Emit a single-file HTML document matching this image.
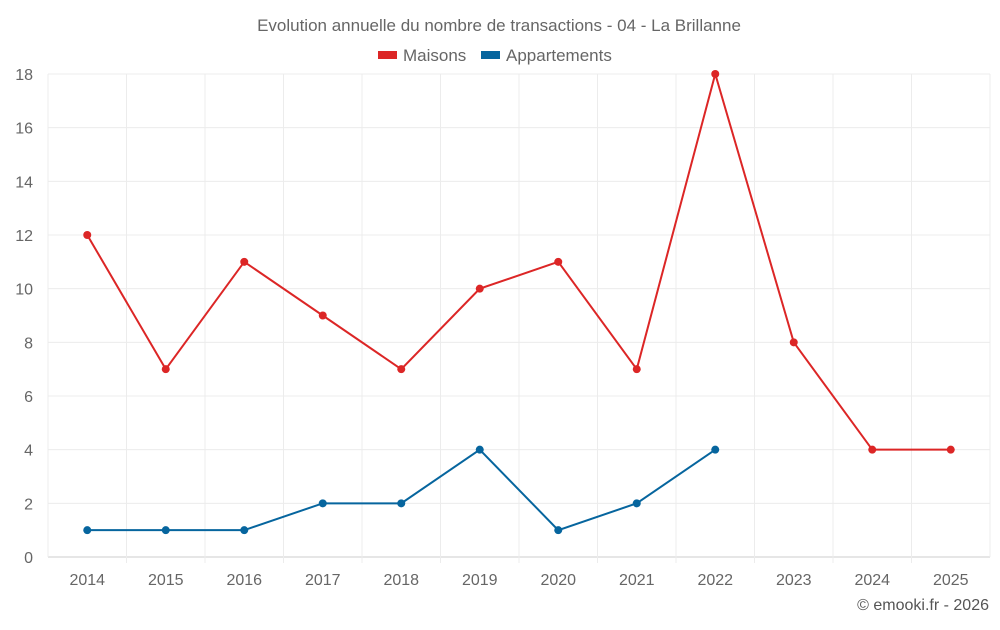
<!DOCTYPE html>
<html><head><meta charset="utf-8"><style>
body{margin:0;background:#fff;font-family:"Liberation Sans",sans-serif;}
svg text{font-family:"Liberation Sans",sans-serif;}
</style></head><body>
<svg id="chart" width="1000" height="625">
<text x="499" y="31" text-anchor="middle" font-size="17" fill="#666">Evolution annuelle du nombre de transactions - 04 - La Brillanne</text>
<g>
<g><rect x="378" y="51" width="19" height="8" fill="#dc2626"/><text x="403" y="61" font-size="17" fill="#666">Maisons</text></g>
<g><rect x="481" y="51" width="19" height="8" fill="#06659e"/><text x="506" y="61" font-size="17" fill="#666">Appartements</text></g>
</g>
<g id="grid"></g><g id="axes"></g><g id="series"></g>
<text x="989" y="610" text-anchor="end" font-size="16" fill="#555">© emooki.fr - 2026</text>
</svg>
<script>
const categories=["2014","2015","2016","2017","2018","2019","2020","2021","2022","2023","2024","2025"];
const maisons=[12,7,11,9,7,10,11,7,18,8,4,4];
const appartements=[1,1,1,2,2,4,1,2,4,null,null,null];
const yTicks=[0,2,4,6,8,10,12,14,16,18];
const L=48,R=990,T=74,B=557,yMax=18;
const bw=(R-L)/categories.length;
const x=i=>L+bw*(i+0.5);
const y=v=>B-(v/yMax)*(B-T);
const NS="http://www.w3.org/2000/svg";
function mk(p,tag,a){const e=document.createElementNS(NS,tag);for(const k in a)e.setAttribute(k,a[k]);p.appendChild(e);return e;}
const grid=document.getElementById('grid'),axes=document.getElementById('axes'),ser=document.getElementById('series');
yTicks.forEach(t=>{
const l=mk(grid,'line',{x1:L,x2:R,y1:y(t),y2:y(t),stroke:t===0?'#ccc':'#ececec','stroke-width':1});


const tx=mk(axes,'text',{x:33,y:y(t)+6,'text-anchor':'end','font-size':16,fill:'#666'});tx.textContent=t;


});
for(let i=0;i<=categories.length;i++){
const l=mk(grid,'line',{x1:L+bw*i,x2:L+bw*i,y1:T,y2:B+(i===0||i===categories.length?0:6),stroke:'#ececec','stroke-width':1});


}
categories.forEach((c,i)=>{
const tx=mk(axes,'text',{x:x(i),y:585,'text-anchor':'middle','font-size':16,fill:'#666'});tx.textContent=c;


});
function draw(data,color,name){
let d='';data.forEach((v,i)=>{if(v==null)return;d+=(d?'L':'M')+x(i)+','+y(v);});
const p=mk(ser,'path',{d:d,fill:'none',stroke:color,'stroke-width':2});


data.forEach((v,i)=>{if(v==null)return;
const c=mk(ser,'circle',{cx:x(i),cy:y(v),r:4,fill:color});


});
}
draw(maisons,'#dc2626','maisons');
draw(appartements,'#06659e','appartements');
</script>
</body></html>
